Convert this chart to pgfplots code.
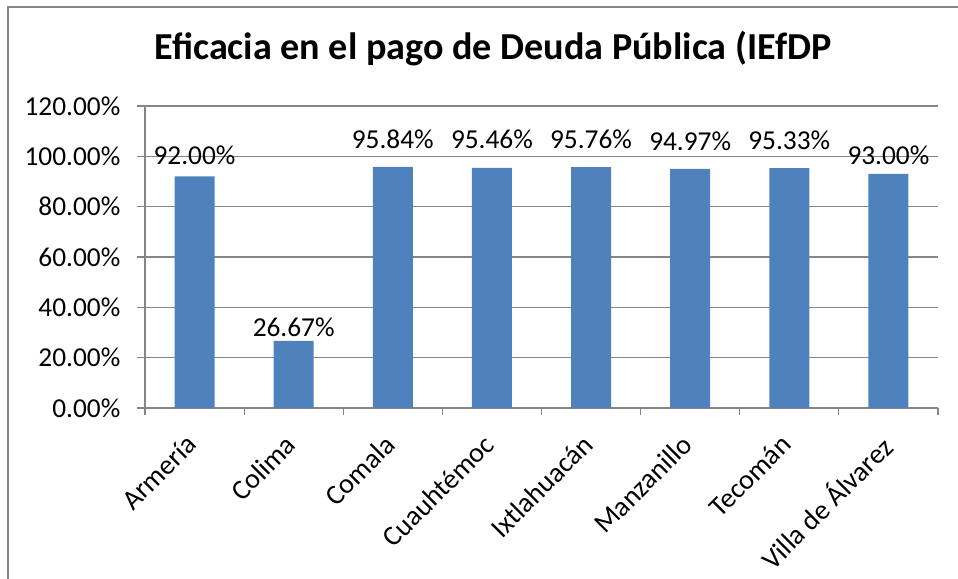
\documentclass[border=0pt]{standalone}
\usepackage{pgfplots}
\usepackage{pgfplotstable}
\pgfplotsset{compat=1.18}
\usepackage{fontspec}
\setmainfont{Carlito}
\definecolor{barblue}{HTML}{4F81BD}
\definecolor{gridgray}{HTML}{868686}
\pgfplotstableread{
x y dy
0 92.00 5.5
1 26.67 -0.5
2 95.84 10
3 95.46 10.7
4 95.76 10
5 94.97 10
6 95.33 10
7 93.00 3.2
}\datatable
\begin{document}
\begin{tikzpicture}
\useasboundingbox (0,0) rectangle (718.5pt,434.25pt);
\draw[gridgray,line width=0.9pt] (6pt,0) -- (6pt,429pt) -- (718.5pt,429pt);
\node[anchor=base,font=\fontsize{28.6}{33}\selectfont\bfseries] at (369.75pt,389.25pt) {Eficacia en el pago de Deuda Pública (IEfDP};
\begin{axis}[
  at={(108.75pt,128.25pt)}, anchor=south west,
  scale only axis, width=594.75pt, height=226.5pt,
  ybar, bar width=30pt,
  xmin=-0.5, xmax=7.5, ymin=0, ymax=120,
  axis x line=bottom, axis y line=left,
  axis line style={gridgray,line width=0.9pt,-},
  ytick={0,20,...,120},
  ymajorgrids, grid style={gridgray,line width=0.9pt},
  xtick={0,...,7},
  xticklabels={Armería,Colima,Comala,Cuauhtémoc,Ixtlahuacán,Manzanillo,Tecomán,Villa de Álvarez},
  minor xtick={-0.5,0.5,...,7.5},
  major x tick style={draw=none},
  minor x tick style={gridgray,line width=0.9pt},
  y tick style={gridgray,line width=0.9pt},
  tick align=outside,
  major tick length=6pt, minor tick length=5.25pt,
  /pgf/number format/assume math mode=true,
  yticklabel={\pgfmathprintnumber[fixed,fixed zerofill,precision=2]{\tick}\%},
  yticklabel style={font=\fontsize{20.5}{24}\selectfont,xshift=-9pt},
  xticklabel style={font=\fontsize{21}{25}\selectfont,xshift=-7.5pt,yshift=-11pt,rotate=45,anchor=north east,inner sep=1pt},
  nodes near coords={\pgfmathprintnumber[fixed,fixed zerofill,precision=2]{\pgfplotspointmeta}\%},
]
\addplot[fill=barblue,draw=none,
  visualization depends on={\thisrow{dy} \as \dy},
  every node near coord/.append style={font=\fontsize{20.5}{24}\selectfont,black,yshift=\dy pt}]
  table[x=x,y=y] {\datatable};
\end{axis}
\end{tikzpicture}
\end{document}
